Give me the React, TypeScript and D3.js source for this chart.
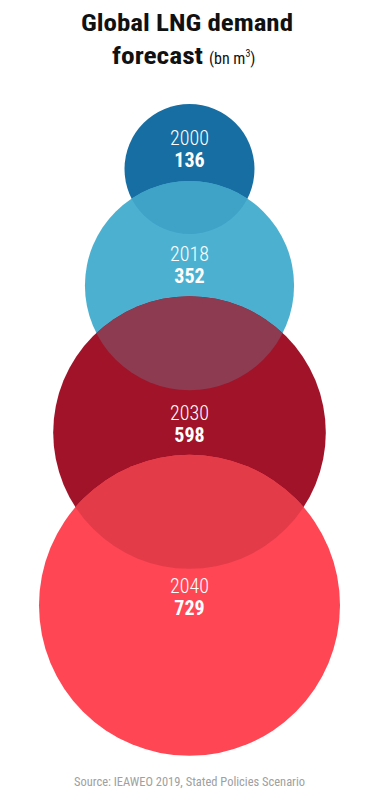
import React from "react";
import * as d3 from "d3";

const years = ["2000", "2018", "2030", "2040"];
const values = [136, 352, 598, 729];
const colors = ["#176ea3", "#4cb1d1", "#a11328", "#ff4654"];
const overlapColors = ["#3fa2c7", "#8c3b50", "#e43b49"];

const W = 376;
const H = 799;
const CX = 189.5;
const FIRST_TOP = 104;
const overlaps = [53, 94, 114];
const labelOffsets = [-2.5, -3, 10, 10];
const FONT = "'Roboto Condensed', 'Liberation Sans Narrow', 'DejaVu Sans Condensed', Roboto, sans-serif";

export default function App() {
  const r = d3.scaleSqrt().domain([0, d3.max(values) as number]).range([0, 150.5]);
  const radii = values.map((v) => r(v));
  const cys: number[] = [];
  radii.forEach((rad, i) => {
    if (i === 0) cys.push(FIRST_TOP + rad);
    else cys.push(cys[i - 1] + radii[i - 1] - overlaps[i - 1] + rad);
  });

  return (
    <div style={{ position: "absolute", left: 0, top: 0 }}>
      <svg width={W} height={H} style={{ display: "block", background: "#fff" }}>
        <defs>
          {radii.map((rad, i) => (
            <clipPath id={`clip${i}`} key={i}>
              <circle cx={CX} cy={cys[i]} r={rad} />
            </clipPath>
          ))}
        </defs>
        <text x={187} y={31} textAnchor="middle" fontFamily={FONT} fontWeight={700} fontSize={24}
          textLength={212} lengthAdjust="spacingAndGlyphs" fill="#111">Global LNG demand</text>
        <text x={112} y={64} fontFamily={FONT} fill="#111">
          <tspan fontWeight={700} fontSize={24} textLength={91} lengthAdjust="spacingAndGlyphs">forecast</tspan>
          <tspan dx={6} fontSize={16} fontWeight={400}>(bn m</tspan>
          <tspan fontSize={10} dy={-7}>3</tspan>
          <tspan fontSize={16} dy={7}>)</tspan>
        </text>
        {radii.map((rad, i) => (
          <circle key={`c${i}`} cx={CX} cy={cys[i]} r={rad} fill={colors[i]} />
        ))}
        {radii.slice(1).map((rad, j) => (
          <circle key={`o${j}`} cx={CX} cy={cys[j + 1]} r={rad} fill={overlapColors[j]}
            clipPath={`url(#clip${j})`} />
        ))}
        {years.map((y, i) => {
          const base = cys[i] + labelOffsets[i];
          return (
            <g key={`l${i}`} fill="#fff" textAnchor="middle" fontFamily={FONT}>
              <text x={CX} y={base - 22} fontSize={20} fontWeight={300}>{y}</text>
              <text x={CX} y={base} fontSize={20} fontWeight={700}>{values[i]}</text>
            </g>
          );
        })}
        <text x={189.5} y={786} textAnchor="middle" fontFamily={FONT} fontSize={12} fill="#a0a0a0"
          textLength={231} lengthAdjust="spacingAndGlyphs">Source: IEAWEO 2019, Stated Policies Scenario</text>
      </svg>
    </div>
  );
}
